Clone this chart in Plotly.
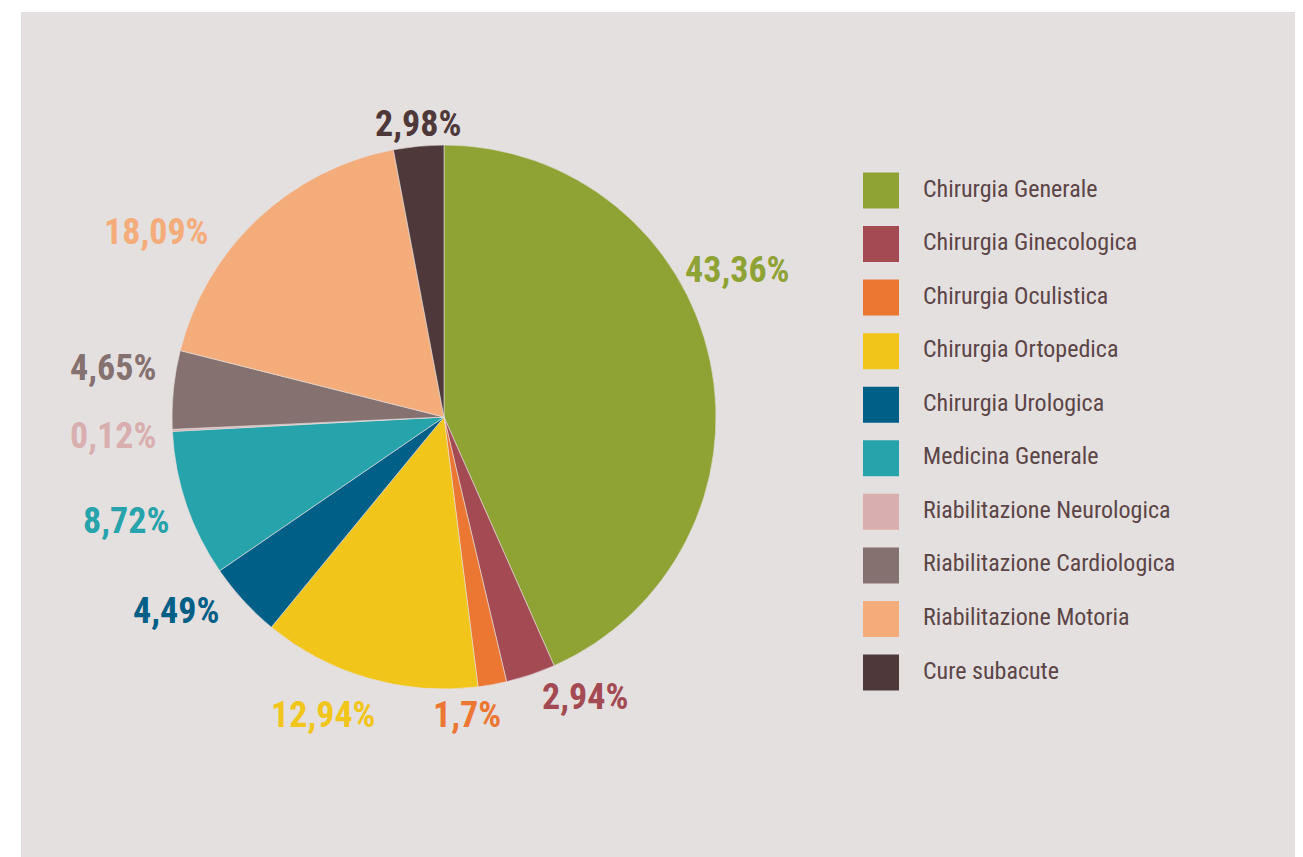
import plotly.graph_objects as go

# ── Data ───────────────────────────────────────────────────────────
categories = [
    "Chirurgia Generale", "Chirurgia Ginecologica", "Chirurgia Oculistica",
    "Chirurgia Ortopedica", "Chirurgia Urologica", "Medicina Generale",
    "Riabilitazione Neurologica", "Riabilitazione Cardiologica",
    "Riabilitazione Motoria", "Cure subacute",
]
shares = [43.36, 2.94, 1.7, 12.94, 4.49, 8.72, 0.12, 4.65, 18.09, 2.98]
share_labels = ["43,36%", "2,94%", "1,7%", "12,94%", "4,49%",
                "8,72%", "0,12%", "4,65%", "18,09%", "2,98%"]

COLORS = [
    "#8FA234", "#A44A53", "#EC7733", "#F1C519", "#005F87",
    "#26A3AB", "#D8AEAE", "#85716F", "#F4AC7A", "#4E3839",
]

# label anchor points (page pixels), hand placed like in the original
LABEL_POS = [(737, 270), (585, 697), (467, 715), (323, 715), (176, 611),
             (126, 521), (113, 436), (113, 368), (156, 232), (418, 124)]

PANEL = "#E5E0E0"
TEXT_COL = "#5B4546"
FONT = "Liberation Sans Narrow, Roboto Condensed, Arial Narrow, Roboto, sans-serif"

# page has an 8px body margin, so the figure is shifted by OFF
OFF = 8
W, H = 1303 - OFF, 857 - OFF


def px_x(x):
    return (x - OFF) / W


def px_y(y):
    return 1 - (y - OFF) / H


fig = go.Figure()

# ── Pie ────────────────────────────────────────────────────────────
cx, cy, r = 444, 417, 272
fig.add_trace(go.Pie(
    labels=categories,
    values=shares,
    textinfo="none",
    sort=False,
    direction="clockwise",
    rotation=0,
    marker=dict(colors=COLORS, line=dict(color=PANEL, width=0.6)),
    domain=dict(x=[px_x(cx - r), px_x(cx + r)],
                y=[px_y(cy + r), px_y(cy - r)]),
    showlegend=False,
    customdata=share_labels,
    hovertemplate="%{label}: %{customdata}<extra></extra>",
))

for lbl, col, (lx, ly) in zip(share_labels, COLORS, LABEL_POS):
    fig.add_annotation(
        x=px_x(lx), y=px_y(ly), xref="paper", yref="paper",
        text=lbl, showarrow=False, xanchor="center", yanchor="middle",
        font=dict(family=FONT, size=36, color=col, weight="bold"),
    )

# ── Custom legend (big squares) ────────────────────────────────────
rows = list(range(len(categories)))
fig.add_trace(go.Scatter(
    x=[0] * len(categories),
    y=rows,
    mode="markers",
    marker=dict(symbol="square", size=36, color=COLORS, line=dict(width=0)),
    showlegend=False,
    hoverinfo="skip",
    cliponaxis=False,
))
fig.add_trace(go.Scatter(
    x=[42] * len(categories),
    y=rows,
    mode="text",
    text=categories,
    textposition="middle right",
    textfont=dict(family=FONT, size=24, color=TEXT_COL),
    showlegend=False,
    hoverinfo="skip",
    cliponaxis=False,
))

fig.update_layout(
    width=W, height=H,
    margin=dict(l=0, r=0, t=0, b=0),
    paper_bgcolor="white",
    plot_bgcolor="rgba(0,0,0,0)",
    xaxis=dict(domain=[px_x(863), 1.0], range=[-18, 422], visible=False, fixedrange=True),
    yaxis=dict(domain=[px_y(672.5), px_y(190.5)], range=[9, 0], visible=False, fixedrange=True),
    shapes=[dict(type="rect", xref="paper", yref="paper",
                 x0=px_x(21), x1=1, y0=0, y1=px_y(12),
                 fillcolor=PANEL, line=dict(width=0), layer="below")],
)

fig.write_html("out.html")
